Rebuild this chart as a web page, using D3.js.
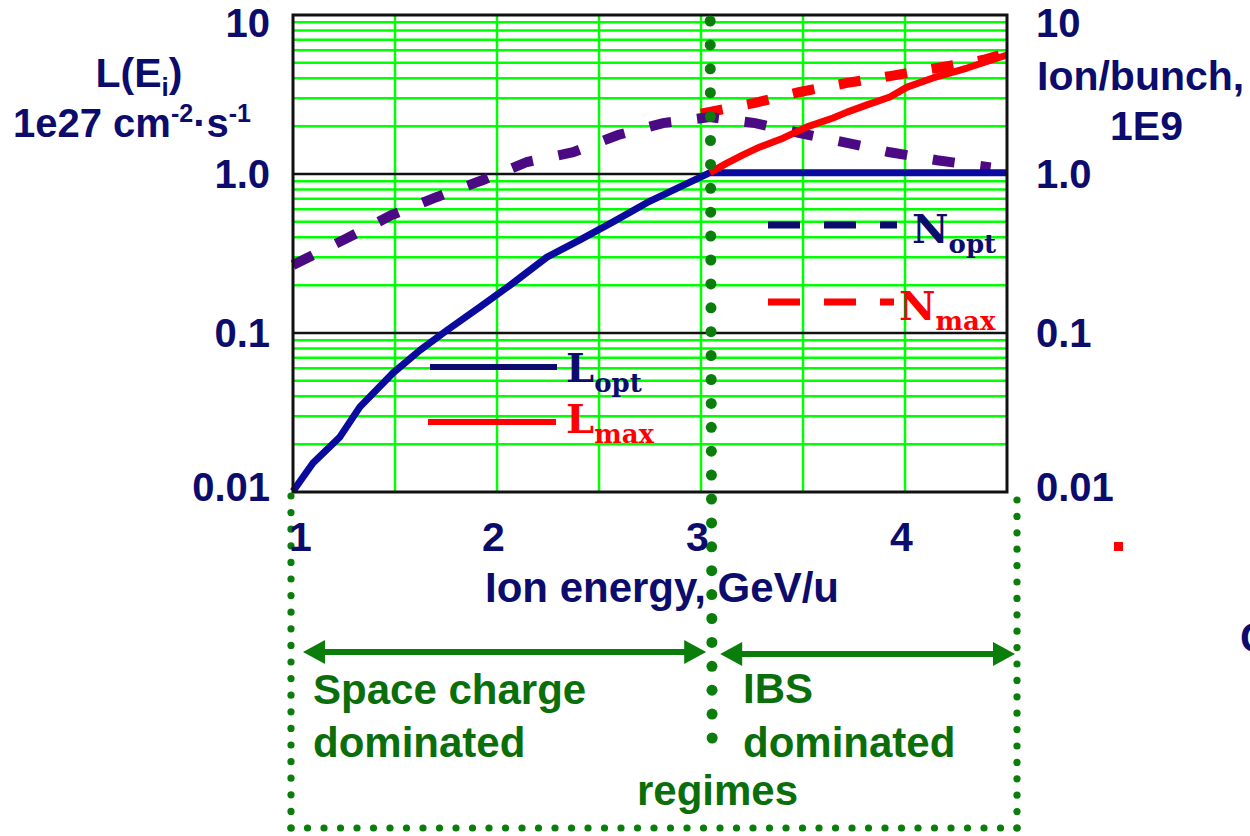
<!DOCTYPE html>
<html><head><meta charset="utf-8">
<script src="https://cdn.jsdelivr.net/npm/d3@7"></script>
<style>body{margin:0;background:#fff;} svg{display:block;}</style>
</head><body>
<script>
// ---------- data ----------
const energyTicks = [1, 2, 3, 4];
const energyTickLabels = ["1", "2", "3", "4"];
const yTickValues = [0.01, 0.1, 1, 10];
const yTickLabels = ["0.01", "0.1", "1.0", "10"];

const energyLopt = [1.0, 1.098, 1.23, 1.328, 1.49, 1.623, 1.755, 1.917, 2.078, 2.245, 2.407, 2.569, 2.735, 2.897, 3.044, 3.5, 4.0, 4.5];
const Lopt       = [0.0101, 0.0152, 0.0222, 0.0343, 0.056, 0.078, 0.104, 0.146, 0.206, 0.30, 0.385, 0.50, 0.66, 0.83, 1.02, 1.02, 1.02, 1.02];

const energyLmax = [3.044, 3.127, 3.206, 3.289, 3.402, 3.52, 3.647, 3.716, 3.814, 3.926, 4.01, 4.137, 4.304, 4.5];
const Lmax       = [1.02, 1.17, 1.32, 1.48, 1.68, 1.98, 2.25, 2.45, 2.72, 3.05, 3.52, 4.02, 4.64, 5.6];

const energyNopt = [1.0, 1.265, 1.485, 1.706, 1.931, 2.147, 2.373, 2.593, 2.814, 3.044, 3.265, 3.485, 3.716, 3.926, 4.157, 4.42];
const Nopt       = [0.268, 0.395, 0.553, 0.717, 0.917, 1.19, 1.37, 1.76, 2.09, 2.28, 2.09, 1.81, 1.57, 1.37, 1.22, 1.10];

const energyNmax = [3.0, 3.265, 3.485, 3.716, 3.926, 4.157, 4.382, 4.5];
const Nmax       = [2.4, 2.80, 3.28, 3.74, 4.13, 4.64, 5.21, 5.77];

const transitionEnergy = 3.04;

// ---------- setup ----------
const W = 1250, H = 836;
const svg = d3.select("body").append("svg").attr("width", W).attr("height", H);
svg.append("rect").attr("width", W).attr("height", H).attr("fill", "#fff");

const pLeft = 293, pRight = 1007, pTop = 15, pBottom = 492;
const x = d3.scaleLinear().domain([1, 4.5]).range([pLeft, pRight]);
const y = d3.scaleLog().domain([0.01, 10]).range([pBottom, pTop]);

const NAVY = "#0c0c6c", GRID = "#00ff00", DG = "#0a7d0a", TXTG = "#0a6e0a",
      BLUE = "#0a0a9e", PURPLE = "#4b0a84", RED = "#ff0000";
const SANS = "'Liberation Sans', Arial, sans-serif";
const SERIF = "'DejaVu Serif', serif";

// ---------- grid ----------
const minor = [];
[0.01, 0.1, 1].forEach(d => { for (let k = 2; k <= 9; k++) minor.push(k * d); });
const grid = svg.append("g");
grid.selectAll("line.hm").data(minor).join("line").attr("class", "hm")
  .attr("x1", pLeft).attr("x2", pRight).attr("y1", d => y(d)).attr("y2", d => y(d))
  .attr("stroke", GRID).attr("stroke-width", 2.5);
grid.selectAll("line.vm").data(d3.range(1.5, 4.5, 0.5)).join("line").attr("class", "vm")
  .attr("x1", d => x(d)).attr("x2", d => x(d)).attr("y1", pTop).attr("y2", pBottom)
  .attr("stroke", GRID).attr("stroke-width", 2.5);
grid.selectAll("line.maj").data([0.1, 1]).join("line").attr("class", "maj")
  .attr("x1", pLeft).attr("x2", pRight).attr("y1", d => y(d)).attr("y2", d => y(d))
  .attr("stroke", "#111").attr("stroke-width", 2.5);

// ---------- curves ----------
const line = d3.line().x(d => x(d[0])).y(d => y(d[1]));
const zip = (a, b) => a.map((v, i) => [v, b[i]]);

svg.append("path").datum(zip(energyNmax, Nmax)).attr("d", line)
  .attr("fill", "none").attr("stroke", RED).attr("stroke-width", 10)
  .attr("stroke-dasharray", "22,25");
svg.append("path").datum(zip(energyNopt, Nopt)).attr("d", line)
  .attr("fill", "none").attr("stroke", PURPLE).attr("stroke-width", 10)
  .attr("stroke-dasharray", "22,26");
svg.append("path").datum(zip(energyLopt, Lopt)).attr("d", line)
  .attr("fill", "none").attr("stroke", BLUE).attr("stroke-width", 7).attr("stroke-linejoin", "round");
svg.append("path").datum(zip(energyLmax, Lmax)).attr("d", line)
  .attr("fill", "none").attr("stroke", RED).attr("stroke-width", 7).attr("stroke-linejoin", "round");

// border
svg.append("rect").attr("x", pLeft).attr("y", pTop).attr("width", pRight - pLeft).attr("height", pBottom - pTop)
  .attr("fill", "none").attr("stroke", "#111").attr("stroke-width", 3);

// ---------- legend ----------
const lg = svg.append("g");
lg.append("line").attr("x1", 430).attr("x2", 557).attr("y1", 367).attr("y2", 367).attr("stroke", NAVY).attr("stroke-width", 6);
lg.append("line").attr("x1", 428).attr("x2", 556).attr("y1", 422).attr("y2", 422).attr("stroke", RED).attr("stroke-width", 6);
lg.append("line").attr("x1", 768).attr("x2", 897).attr("y1", 225).attr("y2", 225).attr("stroke", NAVY).attr("stroke-width", 7).attr("stroke-dasharray", "32,24");
lg.append("line").attr("x1", 768).attr("x2", 894).attr("y1", 302).attr("y2", 302).attr("stroke", RED).attr("stroke-width", 7).attr("stroke-dasharray", "32,24");
function legendLabel(xp, yb, main, sub, color) {
  const t = lg.append("text").attr("x", xp).attr("y", yb).attr("fill", color)
    .attr("font-family", SERIF).attr("font-weight", "bold").attr("font-size", 40);
  t.append("tspan").text(main);
  t.append("tspan").attr("dy", 10).attr("font-size", 26).text(sub);
}
legendLabel(566, 382, "L", "opt", NAVY);
legendLabel(566, 433, "L", "max", RED);
legendLabel(912, 243, "N", "opt", NAVY);
legendLabel(899, 320, "N", "max", RED);

// ---------- dotted regime annotation ----------
function dots(x1, y1, x2, y2, n, r, color) {
  const pts = d3.range(n + 1).map(i => [x1 + (x2 - x1) * i / n, y1 + (y2 - y1) * i / n]);
  svg.append("g").selectAll("circle").data(pts).join("circle")
    .attr("cx", d => d[0]).attr("cy", d => d[1]).attr("r", r).attr("fill", color);
}
const xt = x(transitionEnergy);
const boxL = x(1) - 2, boxR = x(4.5) + 10, boxB = 828;
dots(boxL, 496, boxL, boxB, 20, 3.6, DG);
dots(boxL, boxB, boxR, boxB, 44, 3.6, DG);
dots(boxR, 500, boxR, boxB, 20, 3.6, DG);
dots(xt + 1, 21, xt + 3, 738, 30, 5.5, DG);

function arrow(x1, x2, yy) {
  const g = svg.append("g").attr("fill", DG);
  const hl = 22, hw = 12;
  g.append("line").attr("x1", x1 + hl - 2).attr("x2", x2 - hl + 2).attr("y1", yy).attr("y2", yy)
    .attr("stroke", DG).attr("stroke-width", 6);
  g.append("polygon").attr("points", `${x1},${yy} ${x1 + hl},${yy - hw} ${x1 + hl},${yy + hw}`);
  g.append("polygon").attr("points", `${x2},${yy} ${x2 - hl},${yy - hw} ${x2 - hl},${yy + hw}`);
}
arrow(x(1) + 10, xt - 3, 652);
arrow(xt + 11, boxR - 2, 654);

function gtext(xp, yb, s) {
  svg.append("text").attr("x", xp).attr("y", yb).attr("fill", TXTG)
    .attr("font-family", SANS).attr("font-weight", "bold").attr("font-size", 42).text(s);
}
gtext(313, 704, "Space charge");
gtext(313, 757, "dominated");
gtext(743, 703, "IBS");
gtext(743, 757, "dominated");
gtext(637, 805, "regimes");

// ---------- axes ----------
const txt = sel => sel.attr("fill", NAVY).attr("font-family", SANS).attr("font-weight", "bold");

const xAxis = svg.append("g").attr("transform", `translate(0,${pBottom})`)
  .call(d3.axisBottom(x).tickValues(energyTicks).tickSize(0).tickFormat((d, i) => energyTickLabels[i]));
xAxis.select(".domain").remove();
xAxis.selectAll("text").call(txt).attr("font-size", 41).attr("dy", 0).attr("y", 59)
  .attr("transform", d => `translate(${Math.max(x(d) - 4, 300) - x(d)},0)`);

const yPos = d => Math.min(Math.max(y(d), 23), 487);
svg.append("g").selectAll("text").data(yTickValues).join("text")
  .attr("x", 270).attr("y", d => yPos(d) + 14).attr("text-anchor", "end")
  .attr("font-size", 40).text((d, i) => yTickLabels[i]).call(txt);
svg.append("g").selectAll("text").data(yTickValues).join("text")
  .attr("x", 1036).attr("y", d => yPos(d) + 14).attr("text-anchor", "start")
  .attr("font-size", 40).text((d, i) => yTickLabels[i]).call(txt);

svg.append("text").attr("x", 485).attr("y", 602).attr("font-size", 42).call(txt).text("Ion energy, GeV/u");

const lt = svg.append("text").attr("x", 139).attr("y", 87).attr("text-anchor", "middle").attr("font-size", 41).call(txt);
lt.append("tspan").text("L(E");
lt.append("tspan").attr("font-size", 26).attr("dy", 9).text("i");
lt.append("tspan").attr("dy", -9).text(")");

const lu = svg.append("text").attr("x", 13).attr("y", 137).attr("font-size", 40).call(txt);
lu.append("tspan").text("1e27 cm");
lu.append("tspan").attr("font-size", 25).attr("dy", -15).text("-2");
lu.append("tspan").attr("dy", 15).text("·s");
lu.append("tspan").attr("font-size", 25).attr("dy", -15).text("-1");

svg.append("text").attr("x", 1037).attr("y", 90).attr("font-size", 41).call(txt).text("Ion/bunch,");
svg.append("text").attr("x", 1110).attr("y", 140).attr("font-size", 41).call(txt).text("1E9");

// stray fragments at right edge
svg.append("rect").attr("x", 1114).attr("y", 542).attr("width", 9).attr("height", 9).attr("fill", RED);
svg.append("text").attr("x", 1240).attr("y", 652).attr("font-size", 42).call(txt).text("C");
</script>
</body></html>
